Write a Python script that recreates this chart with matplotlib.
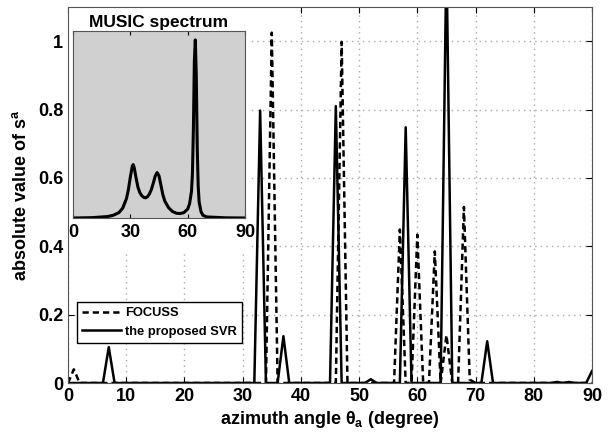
import numpy as np
import matplotlib
matplotlib.use('Agg')
import matplotlib.pyplot as plt
from matplotlib.patches import Rectangle

plt.rcParams['font.family'] = ['Liberation Sans', 'DejaVu Sans']
plt.rcParams['font.weight'] = 'bold'
plt.rcParams['mathtext.fontset'] = 'custom'
plt.rcParams['mathtext.rm'] = 'Liberation Sans:bold'
plt.rcParams['mathtext.bf'] = 'Liberation Sans:bold'
plt.rcParams['mathtext.it'] = 'Liberation Sans:bold'

# angle grid (degree) of the sparse solutions
angles = list(range(0, 91))

# non-zero entries
svr_peaks = {7: 0.105, 33: 0.797, 37: 0.137, 46: 0.81, 52: 0.011, 58: 0.748,
             65: 1.25, 72: 0.122, 84: 0.003, 86: 0.003, 90: 0.035}
focuss_peaks = {1: 0.04, 35: 1.025, 47: 0.998, 57: 0.449, 60: 0.434,
                63: 0.385, 65: 0.14, 68: 0.515, 69: 0.01}

# MUSIC spectrum (inset)
music_angles = [0, 10, 18, 21, 24, 26, 28, 29, 30, 31, 31.5, 32, 33, 34, 35, 36, 37,
                38, 39, 40, 41, 42, 43, 44, 45, 46, 47, 48, 50, 52, 54, 56, 58, 60,
                61, 62, 62.5, 63, 63.5, 64, 64.5, 65, 65.5, 66, 67, 68, 70, 80, 90]
music_values = [0.0, 0.002, 0.008, 0.015, 0.03, 0.055, 0.11, 0.16, 0.23, 0.29, 0.30,
                0.285, 0.225, 0.172, 0.142, 0.125, 0.116, 0.113, 0.12, 0.135, 0.16,
                0.195, 0.235, 0.255, 0.237, 0.185, 0.132, 0.096, 0.058, 0.037, 0.027,
                0.025, 0.03, 0.05, 0.08, 0.15, 0.25, 0.5, 0.88, 1.0, 0.8, 0.4, 0.18,
                0.09, 0.035, 0.015, 0.006, 0.001, 0.0]

svr = np.zeros(len(angles))
for k, v in svr_peaks.items():
    svr[k] = v
focuss = np.zeros(len(angles))
for k, v in focuss_peaks.items():
    focuss[k] = v

fig = plt.figure(figsize=(6.08, 4.37), dpi=100)
ax = fig.add_axes([68 / 608, 54 / 437, 524 / 608, 376 / 437])

ax.plot(angles, focuss, color='black', lw=1.8, ls=(0, (2.5, 1.6)), label='FOCUSS')
ax.plot(angles, svr, color='black', lw=1.8, label='the proposed SVR')

ax.set_xlim(0, 90)
ax.set_ylim(0, 1.1)
ax.set_xticks(range(0, 91, 10))
ax.set_yticks([0, 0.2, 0.4, 0.6, 0.8, 1])
ax.set_yticklabels(['0', '0.2', '0.4', '0.6', '0.8', '1'])
ax.tick_params(direction='in', top=True, right=True, labelsize=13, length=4)
ax.grid(True, ls=(0, (1, 3)), color='#aaaaaa', lw=1.0)
for s in ax.spines.values():
    s.set_color('#555555')

ax.set_xlabel(r'azimuth angle $\theta_a$ (degree)', fontsize=13, fontweight='bold', labelpad=3)
ax.set_ylabel(r'absolute value of s$^a$', fontsize=13, fontweight='bold', labelpad=6)

leg = ax.legend(loc='lower left', bbox_to_anchor=(0.017, 0.106), borderaxespad=0,
                fontsize=9.3, handlelength=3.0, fancybox=False, framealpha=1,
                edgecolor='black', borderpad=0.4, labelspacing=0.5, handletextpad=0.3)
leg.get_frame().set_linewidth(1.0)

# white area behind the inset (title and tick labels)
ax.add_patch(Rectangle((1 / 524, 130 / 376), 182 / 524, 245 / 376, transform=ax.transAxes,
                       facecolor='white', edgecolor='none', zorder=2.5))

ins = fig.add_axes([73 / 608, 219 / 437, 172 / 608, 187 / 437])
ins.set_facecolor('#d0d0d0')
ins.plot(music_angles, music_values, color='black', lw=2.2)
ins.set_xlim(0, 90)
ins.set_ylim(0, 1.05)
ins.set_xticks([0, 30, 60, 90])
ins.set_yticks([])
ins.tick_params(direction='in', top=True, labelsize=13, length=3, pad=4)
ins.set_title('MUSIC spectrum', fontsize=12.5, fontweight='bold', pad=3)
for s in ins.spines.values():
    s.set_color('#555555')

fig.savefig('out.png', dpi=100)
